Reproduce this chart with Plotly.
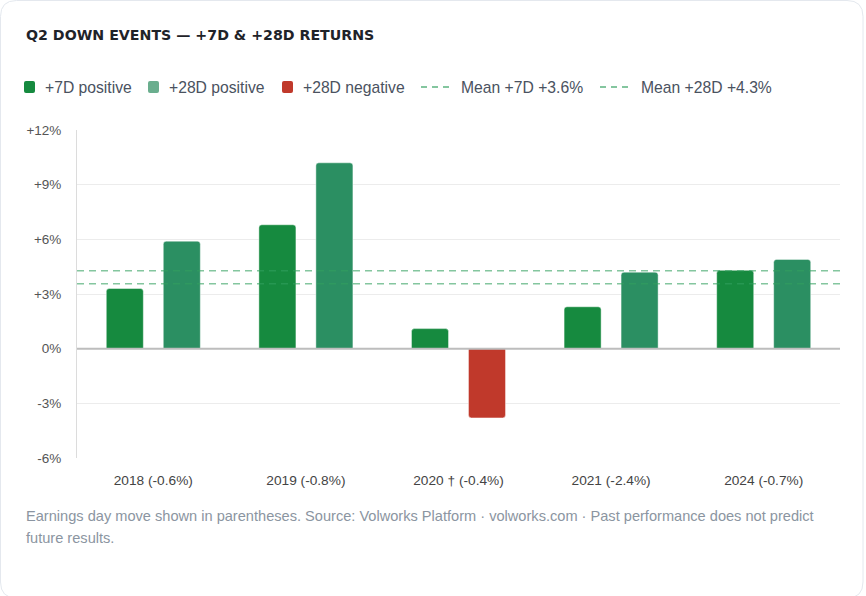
import plotly.graph_objects as go

# ---- data ----
categories = ["2018 (-0.6%)", "2019 (-0.8%)", "2020 † (-0.4%)", "2021 (-2.4%)", "2024 (-0.7%)"]
ret_7d = [3.3, 6.8, 1.1, 2.3, 4.3]
ret_28d = [5.9, 10.2, -3.8, 4.2, 4.9]
y_ticks = [-6, -3, 0, 3, 6, 9, 12]
y_tick_labels = ["-6%", "-3%", "0%", "+3%", "+6%", "+9%", "+12%"]
title_text = "Q2 DOWN EVENTS — +7D & +28D RETURNS"
legend_labels = ["+7D positive", "+28D positive", "+28D negative"]
footnote_lines = [
    "Earnings day move shown in parentheses. Source: Volworks Platform · volworks.com · Past performance does not predict",
    "future results.",
]

# ---- styles ----
C7 = "#168a3f"
C28 = "#2b8f62"
C28_LEG = "#6aae8e"
CNEG = "#c0392b"
MEAN_C = "rgba(50,160,95,0.6)"
W_PX, H_PX = 866, 596
L, R, T, B = 77, 26, 130, 138
PW, PH = W_PX - L - R, H_PX - T - B


def px(x):
    return (x - L) / PW


def py(y):
    return 1 - (y - T) / PH


mean7 = sum(ret_7d) / len(ret_7d)
mean28 = sum(ret_28d) / len(ret_28d)

fig = go.Figure()
fig.add_bar(
    x=categories, y=ret_7d, name="+7D",
    marker=dict(color=C7, cornerradius=3, line=dict(color="rgba(255,255,255,0.45)", width=1)),
    showlegend=False, hoverinfo="skip",
)
fig.add_bar(
    x=categories, y=ret_28d, name="+28D",
    marker=dict(color=[C28 if v >= 0 else CNEG for v in ret_28d], cornerradius=3,
                line=dict(color="rgba(255,255,255,0.45)", width=1)),
    showlegend=False, hoverinfo="skip",
)

shapes = []
annotations = []

# card outline (rounded)
x0, y0, x1, y1, rr = 0.5, 0.5, 863, 598, 16
path = (f"M {px(x0+rr)},{py(y0)} L {px(x1-rr)},{py(y0)} Q {px(x1)},{py(y0)} {px(x1)},{py(y0+rr)} "
        f"L {px(x1)},{py(y1-rr)} Q {px(x1)},{py(y1)} {px(x1-rr)},{py(y1)} "
        f"L {px(x0+rr)},{py(y1)} Q {px(x0)},{py(y1)} {px(x0)},{py(y1-rr)} "
        f"L {px(x0)},{py(y0+rr)} Q {px(x0)},{py(y0)} {px(x0+rr)},{py(y0)} Z")
shapes.append(dict(type="path", xref="paper", yref="paper", path=path,
                   line=dict(color="#e4e8ee", width=1), fillcolor="rgba(0,0,0,0)", layer="below"))

# mean lines
for m in (mean7, mean28):
    shapes.append(dict(type="line", xref="paper", yref="y", x0=0, x1=1, y0=m, y1=m,
                       line=dict(color=MEAN_C, width=1.5, dash="7px,5px"), layer="above"))

# zero line
shapes.append(dict(type="line", xref="paper", yref="y", x0=0, x1=1, y0=0, y1=0,
                   line=dict(color="#bdbdbd", width=2), layer="above"))

# title
annotations.append(dict(text=f"<b>{title_text}</b>", x=px(24), y=py(35), xref="paper", yref="paper",
                        xanchor="left", yanchor="middle", showarrow=False,
                        font=dict(family="DejaVu Sans", size=14.2, color="#1f2329")))

# legend
leg_y = 87
leg_font = dict(family="Liberation Sans", size=15.7, color="#4a5260")
sw = [(24, 43, C7), (148, 167, C28_LEG), (282, 301, CNEG)]
for (sx, tx, col), lab in zip(sw, legend_labels):
    r2 = 2
    xa, xb, ya, yb = sx, sx + 11, leg_y - 6, leg_y + 6
    p = (f"M {px(xa+r2)},{py(ya)} L {px(xb-r2)},{py(ya)} Q {px(xb)},{py(ya)} {px(xb)},{py(ya+r2)} "
         f"L {px(xb)},{py(yb-r2)} Q {px(xb)},{py(yb)} {px(xb-r2)},{py(yb)} "
         f"L {px(xa+r2)},{py(yb)} Q {px(xa)},{py(yb)} {px(xa)},{py(yb-r2)} "
         f"L {px(xa)},{py(ya+r2)} Q {px(xa)},{py(ya)} {px(xa+r2)},{py(ya)} Z")
    shapes.append(dict(type="path", xref="paper", yref="paper", path=p, fillcolor=col, line=dict(width=0)))
    annotations.append(dict(text=lab, x=px(tx), y=py(leg_y), xref="paper", yref="paper",
                            xanchor="left", yanchor="middle", showarrow=False, font=leg_font))
for (lx, tx, m, lab) in [(421, 459, mean7, "Mean +7D"), (600, 639, mean28, "Mean +28D")]:
    shapes.append(dict(type="line", xref="paper", yref="paper", x0=px(lx), x1=px(lx + 30),
                       y0=py(leg_y), y1=py(leg_y), line=dict(color=MEAN_C, width=2, dash="6px,5px")))
    annotations.append(dict(text=f"{lab} +{m:.1f}%", x=px(tx), y=py(leg_y), xref="paper", yref="paper",
                            xanchor="left", yanchor="middle", showarrow=False, font=leg_font))

# footnote
for i, line in enumerate(footnote_lines):
    annotations.append(dict(text=line, x=px(24), y=py(516 + 22 * i), xref="paper", yref="paper",
                            xanchor="left", yanchor="middle", showarrow=False,
                            font=dict(family="Liberation Sans", size=14.6, color="#8b95a1")))

fig.update_layout(
    width=W_PX, height=H_PX,
    margin=dict(l=L, r=R, t=T, b=B, autoexpand=False),
    paper_bgcolor="white", plot_bgcolor="white",
    barmode="group", bargap=0.253, bargroupgap=0.35,
    shapes=shapes, annotations=annotations,
    showlegend=False,
    font=dict(family="Liberation Sans", size=13, color="#555"),
)
fig.update_yaxes(range=[-6, 12], tickvals=y_ticks, ticktext=y_tick_labels,
                 showgrid=True, gridcolor="#ececec", gridwidth=1, zeroline=False,
                 showline=True, linecolor="#dcdcdc", linewidth=1, ticks="", ticklabelstandoff=12,
                 tickfont=dict(family="Liberation Sans", size=13.5, color="#555"), fixedrange=True)
fig.update_xaxes(showgrid=False, showline=False, ticks="", ticklabelstandoff=12,
                 tickfont=dict(family="Liberation Sans", size=13.7, color="#444"), fixedrange=True)

fig.write_html("out.html", config={"displayModeBar": False})
